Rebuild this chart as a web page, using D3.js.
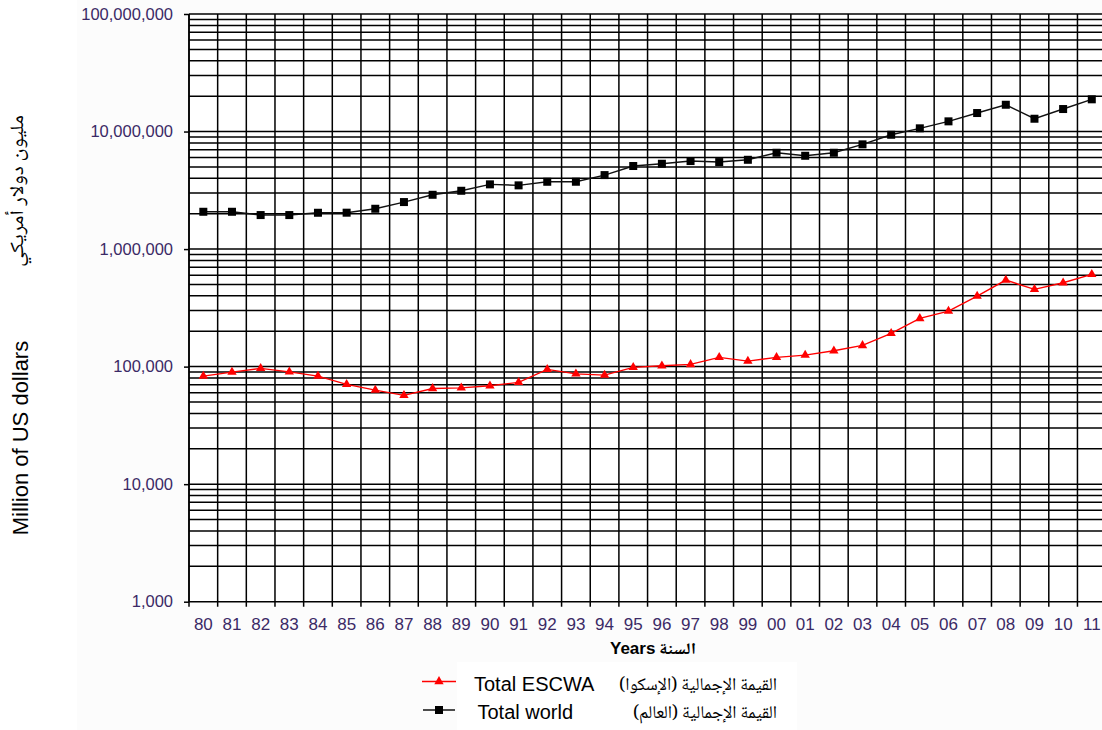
<!DOCTYPE html>
<html>
<head>
<meta charset="utf-8">
<script src="https://cdn.jsdelivr.net/npm/d3@7"></script>
<style>
  html, body { margin: 0; padding: 0; background: #ffffff; }
  svg { display: block; }
  text { font-family: "Liberation Sans", Arial, sans-serif; }
  .ar { font-family: "Noto Naskh Arabic", "Noto Sans Arabic", "DejaVu Sans", sans-serif; }
</style>
</head>
<body>
<svg id="chart" width="1102" height="730"></svg>
<script>
// ---------- data ----------
const years = ["80","81","82","83","84","85","86","87","88","89","90","91","92","93","94","95",
               "96","97","98","99","00","01","02","03","04","05","06","07","08","09","10","11"];
const totalWorld = [2077000, 2077000, 1947000, 1947000, 2037000, 2040000, 2203000, 2512000,
                    2897000, 3134000, 3554000, 3484000, 3738000, 3740000, 4260000, 5090000,
                    5320000, 5610000, 5500000, 5750000, 6600000, 6220000, 6600000, 7780000,
                    9390000, 10650000, 12210000, 14370000, 16900000, 12850000, 15540000, 18800000];
const totalEscwa = [83000, 89800, 96600, 90300, 83000, 70600, 63100, 56900,
                    65200, 66000, 68700, 73400, 94700, 86800, 84700, 98500,
                    101600, 104400, 119800, 111400, 119800, 125300, 136300, 151400,
                    191700, 257000, 296600, 398000, 544600, 454000, 516600, 609000];
const yTickValues = [1000, 10000, 100000, 1000000, 10000000, 100000000];
const yTitleEn = "Million of US dollars";
const yTitleAr = "مليون دولار أمريكي";
const xTitleEn = "Years";
const xTitleAr = "السنة";
const legendEn = ["Total ESCWA", "Total world"];
const legendAr = ["القيمة الإجمالية (الإسكوا)\u200F", "القيمة الإجمالية (العالم)\u200F"];

// ---------- layout ----------
const svg = d3.select("#chart");
const plotLeft = 189, plotTop = 14, plotBottom = 601.7;
const step = 28.66;
const plotRight = plotLeft + step * years.length;

svg.append("rect").attr("x", 77).attr("y", 0).attr("width", 1025).attr("height", 730).attr("fill", "#fcfcfc");
svg.append("rect").attr("x", plotLeft).attr("y", plotTop).attr("width", plotRight - plotLeft)
   .attr("height", plotBottom - plotTop).attr("fill", "#ffffff");

const x = d3.scaleBand().domain(years).range([plotLeft, plotRight]).padding(0);
const y = d3.scaleLog().domain([1000, 100000000]).range([plotBottom, plotTop]);

// minor + major horizontal gridlines
const gridVals = [];
for (let e = 3; e < 8; e++) {
  for (let m = 1; m < 10; m++) gridVals.push(m * Math.pow(10, e));
}
gridVals.push(1e8);
svg.append("g").selectAll("line").data(gridVals).join("line")
  .attr("x1", plotLeft).attr("x2", plotRight)
  .attr("y1", d => y(d)).attr("y2", d => y(d))
  .attr("stroke", "#000").attr("stroke-width", 1.5);

// vertical gridlines at category boundaries
const bounds = years.map(d => x(d)).concat([plotRight]);
svg.append("g").selectAll("line").data(bounds).join("line")
  .attr("x1", d => d).attr("x2", d => d)
  .attr("y1", plotTop).attr("y2", plotBottom + 5)
  .attr("stroke", "#000").attr("stroke-width", 1.5);

// y axis
const yAxis = d3.axisLeft(y).tickValues(yTickValues).tickFormat(d3.format(",")).tickSize(5).tickPadding(11);
const gy = svg.append("g").attr("transform", `translate(${plotLeft},0)`).call(yAxis);
gy.select(".domain").attr("stroke", "#000").attr("stroke-width", 1.5).attr("d", `M0,${plotTop}V${plotBottom}`);
gy.selectAll(".tick line").attr("stroke", "#000").attr("stroke-width", 1.5);
gy.selectAll(".tick text").attr("fill", "#3b2a66").style("font-size", "16.5px")
  .style("font-family", "'Liberation Sans', Arial, sans-serif");

// x axis labels
const xAxis = d3.axisBottom(x).tickSize(0).tickPadding(16);
const gx = svg.append("g").attr("transform", `translate(0,${plotBottom})`).call(xAxis);
gx.select(".domain").remove();
gx.selectAll(".tick text").attr("fill", "#3b2a66").style("font-size", "17px")
  .style("font-family", "'Liberation Sans', Arial, sans-serif");

// ---------- series ----------
const line = d3.line().x((d, i) => x(years[i]) + x.bandwidth() / 2).y(d => y(d));

svg.append("path").datum(totalWorld).attr("d", line)
  .attr("fill", "none").attr("stroke", "#111").attr("stroke-width", 1.4);
svg.append("g").selectAll("rect").data(totalWorld).join("rect")
  .attr("x", (d, i) => x(years[i]) + x.bandwidth() / 2 - 4)
  .attr("y", d => y(d) - 4)
  .attr("width", 8).attr("height", 8).attr("fill", "#000");

svg.append("path").datum(totalEscwa).attr("d", line)
  .attr("fill", "none").attr("stroke", "#ff0000").attr("stroke-width", 1.4);
const tri = d3.symbol().type(d3.symbolTriangle).size(38);
svg.append("g").selectAll("path").data(totalEscwa).join("path")
  .attr("d", tri)
  .attr("transform", (d, i) => `translate(${x(years[i]) + x.bandwidth() / 2},${y(d)})`)
  .attr("fill", "#ff0000");

// ---------- titles ----------
svg.append("text").attr("transform", "translate(28,438) rotate(-90)")
  .attr("text-anchor", "middle").style("font-size", "22px").attr("fill", "#000").text(yTitleEn);
svg.append("text").attr("class", "ar").attr("transform", "translate(23,191) rotate(-90)")
  .attr("text-anchor", "middle").style("font-size", "19px").attr("fill", "#000")
  .attr("textLength", 152).attr("lengthAdjust", "spacingAndGlyphs").text(yTitleAr);

svg.append("text").attr("x", 610).attr("y", 654).style("font-size", "17px")
  .style("font-weight", "bold").attr("fill", "#000").text(xTitleEn);
svg.append("text").attr("class", "ar").attr("x", 696).attr("y", 654).attr("text-anchor", "end")
  .style("font-size", "16px").style("font-weight", "bold").attr("fill", "#000")
  .attr("textLength", 37).attr("lengthAdjust", "spacingAndGlyphs").text(xTitleAr);

// ---------- legend ----------
svg.append("rect").attr("x", 457).attr("y", 662).attr("width", 340).attr("height", 68).attr("fill", "#ffffff");
const lg = svg.append("g");
// row 1 ESCWA
lg.append("line").attr("x1", 422).attr("x2", 456).attr("y1", 681.5).attr("y2", 681.5)
  .attr("stroke", "#ff0000").attr("stroke-width", 1.4);
lg.append("path").attr("d", tri).attr("transform", "translate(439,681.5)").attr("fill", "#ff0000");
lg.append("text").attr("x", 474).attr("y", 690.5).style("font-size", "20px").attr("fill", "#000").text(legendEn[0]);
lg.append("text").attr("class", "ar").attr("x", 777).attr("y", 690).attr("text-anchor", "end")
  .style("font-size", "18px").attr("fill", "#000")
  .attr("textLength", 158).attr("lengthAdjust", "spacingAndGlyphs").text(legendAr[0]);
// row 2 world
lg.append("line").attr("x1", 423).attr("x2", 455).attr("y1", 710).attr("y2", 710)
  .attr("stroke", "#000").attr("stroke-width", 1.4);
lg.append("rect").attr("x", 435).attr("y", 706).attr("width", 8).attr("height", 8).attr("fill", "#000");
lg.append("text").attr("x", 477.5).attr("y", 718.5).style("font-size", "20px").attr("fill", "#000").text(legendEn[1]);
lg.append("text").attr("class", "ar").attr("x", 777).attr("y", 718).attr("text-anchor", "end")
  .style("font-size", "18px").attr("fill", "#000")
  .attr("textLength", 144).attr("lengthAdjust", "spacingAndGlyphs").text(legendAr[1]);
</script>
</body>
</html>
